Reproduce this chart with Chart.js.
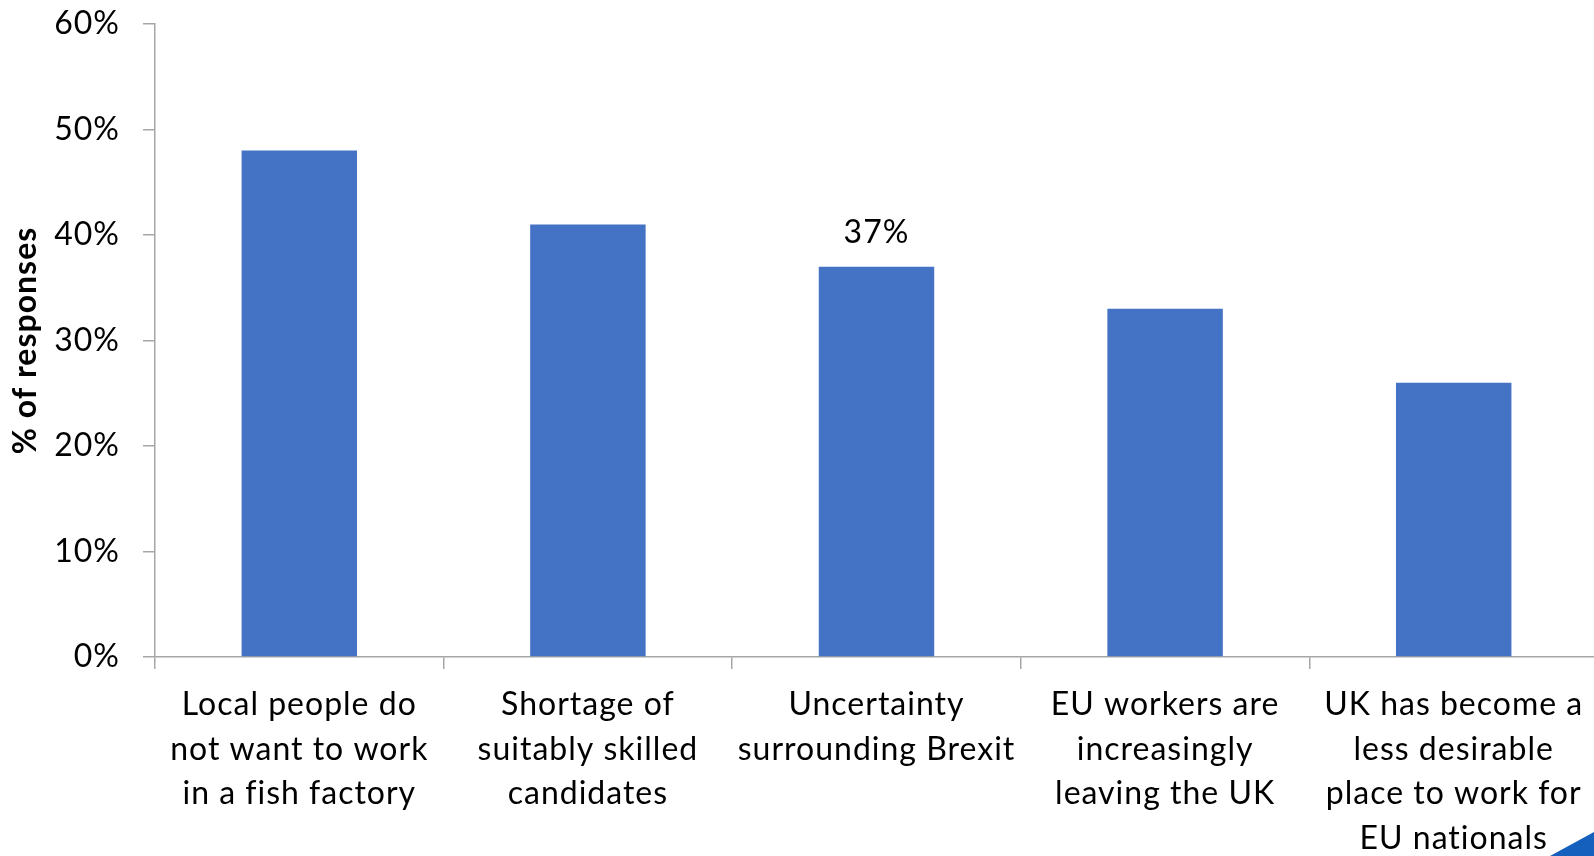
<!DOCTYPE html>
<html>
<head>
<meta charset="utf-8">
<script src="https://cdn.jsdelivr.net/npm/chart.js@4"></script>
<style>
  html, body { margin: 0; padding: 0; overflow: hidden; background: #fff; }
  #wrap { position: relative; width: 1598px; height: 900px; }
  #corner {
    position: fixed; right: 0; bottom: 0; width: 44px; height: 24px;
    background: #1560bd;
    clip-path: polygon(0 100%, 100% 0, 100% 100%);
  }
</style>
</head>
<body>
<div id="wrap"><canvas id="graph"></canvas></div>
<div id="corner"></div>
<script>
var categories = [
    ["Local people do", "not want to work", "in a fish factory"],
    ["Shortage of", "suitably skilled", "candidates"],
    ["Uncertainty", "surrounding Brexit"],
    ["EU workers are", "increasingly", "leaving the UK"],
    ["UK has become a", "less desirable", "place to work for", "EU nationals"]
];
var responses = [48, 41, 37, 33, 26];
var labelledBars = [2];   // only the Brexit bar gets its value printed

var FONT = "Lato";
var AXIS_GREY = "#a6a6a6";

// slightly looser text, set again before every draw since resizing resets the context
var spacing = {
    id: "spacing",
    beforeDraw(chart) {
        chart.ctx.letterSpacing = "1px";
    }
};

// value label above the chosen bars
var barLabels = {
    id: "barLabels",
    afterDatasetsDraw(chart) {
        let ctx = chart.ctx;
        let meta = chart.getDatasetMeta(0);
        ctx.save();
        ctx.font = "32px " + FONT;
        ctx.fillStyle = "#000";
        ctx.textAlign = "center";
        ctx.textBaseline = "middle";
        labelledBars.forEach(i => {
            let bar = meta.data[i];
            ctx.fillText(responses[i] + "%", bar.x, bar.y - 34);
        });
        ctx.restore();
    }
};

function draw() {
    var ctx = document.getElementById("graph").getContext("2d");
    new Chart(ctx, {
        type: "bar",
        data: {
            labels: categories,
            datasets: [{
                data: responses,
                backgroundColor: "#4472c4",
                barPercentage: 0.4,
                categoryPercentage: 1.0
            }]
        },
        plugins: [spacing, barLabels],
        options: {
            responsive: true,
            maintainAspectRatio: false,
            devicePixelRatio: 1,
            animation: false,
            layout: { padding: { top: 24, left: 0, right: 0, bottom: 0 } },
            plugins: {
                legend: { display: false },
                tooltip: { enabled: false }
            },
            scales: {
                x: {
                    offset: true,
                    afterFit: scale => { scale.height = 900 - 657; },
                    border: { color: AXIS_GREY, width: 1.5 },
                    grid: {
                        offset: true,
                        drawOnChartArea: false,
                        tickLength: 12,
                        color: AXIS_GREY,
                        lineWidth: 1.5
                    },
                    ticks: {
                        color: "#000",
                        font: { family: FONT, size: 32, lineHeight: 1.4 },
                        padding: 13,
                        maxRotation: 0,
                        autoSkip: false
                    }
                },
                y: {
                    min: 0,
                    max: 60,
                    afterFit: scale => {
                        scale.width = 155;
                        scale.paddingTop = 0;
                        scale.paddingBottom = 0;
                    },
                    border: { color: AXIS_GREY, width: 1.5 },
                    grid: {
                        drawOnChartArea: false,
                        tickLength: 12,
                        color: AXIS_GREY,
                        lineWidth: 1.5
                    },
                    ticks: {
                        stepSize: 10,
                        color: "#000",
                        font: { family: FONT, size: 32 },
                        padding: 23,
                        callback: v => v + "%"
                    },
                    title: {
                        display: true,
                        text: "% of responses",
                        color: "#000",
                        font: { family: FONT, size: 32, weight: "bold" },
                        padding: { top: 6, bottom: 0 }
                    }
                }
            }
        }
    });
}

document.fonts.load("32px " + FONT).then(draw, draw);
</script>
</body>
</html>
